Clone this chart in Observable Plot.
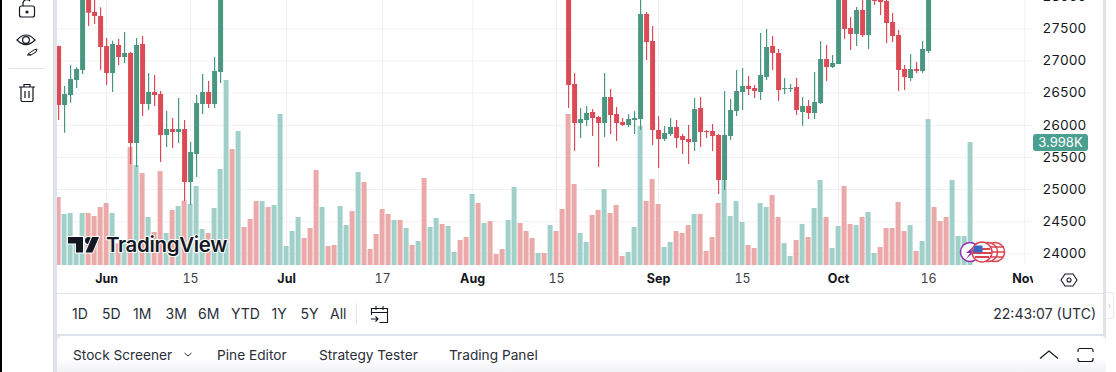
<!DOCTYPE html>
<html><head><meta charset="utf-8">
<script src="https://cdn.jsdelivr.net/npm/d3@7"></script>
<script src="https://cdn.jsdelivr.net/npm/@observablehq/plot@0.6"></script>
<style>
html,body{margin:0;padding:0;width:1116px;height:372px;overflow:hidden;background:#fff;font-family:Inter,"Liberation Sans",sans-serif;color:#131722}
#root{position:relative;width:1116px;height:372px;overflow:hidden}
#chart{position:absolute;left:0;top:0}
#chart svg{display:block;background:transparent}
.a{position:absolute;white-space:nowrap}
.band{position:absolute;background:#e0e3eb}
.r{font-size:14px;top:306px;line-height:16px;color:#2a2e39}
.t{font-size:13.7px;top:347px;line-height:16px;color:#2a2e39}
</style></head><body><div id="root">
<div class="band" style="left:53px;top:0;width:4px;height:372px"></div>
<div class="band" style="left:1103px;top:0;width:3px;height:341px"></div>
<div id="chart"></div>
<div class="a" style="left:1033px;top:265px;width:70px;height:28px;background:#fff"></div>
<div class="a" style="left:57px;top:293px;width:1046px;height:1px;background:#e0e3eb"></div>
<div class="band" style="left:53px;top:334px;width:1053px;height:7px;border-radius:0"></div>
<div class="a" style="left:57px;top:294px;width:1046px;height:40px;background:#fff;border-radius:0 0 5px 5px"></div>
<div class="a" style="left:57px;top:336px;width:1049px;height:36px;background:linear-gradient(#fff 60%,#f1f2f5);border-radius:5px 5px 0 0"></div>
<div class="a" style="left:0;top:0;width:1.5px;height:372px;background:#000"></div>
<svg class="a" style="left:0;top:0" width="56" height="110" fill="none" stroke="#131722" stroke-width="1.2">
<rect x="19.5" y="6" width="15" height="11" rx="2"/><path d="M23 6V3a4 4 0 0 1 7-2"/><circle cx="27" cy="12" r="1" fill="#131722"/>
<path d="M17 40q9-10 18 0q-9 9-18 0z"/><circle cx="26" cy="40" r="3.4"/><path d="M28 54l6-4 3-1-1 3-5 3zM27 55h4" stroke-width="1"/>
<path d="M9 68.5h36" stroke="#e0e3eb"/>
<path d="M19 87h16M24 87v-2.500h6V87M21 87v13a1.500 1.500 0 0 0 1.500 1.500h9a1.500 1.500 0 0 0 1.500-1.500V87M25 91v7M29 91v7"/>
</svg>
<div class="a" id="badge" style="left:1033px;top:134px;width:55px;height:17px;line-height:17px;background:#4a9f91;color:#fff;border-radius:3px;font-size:13px;text-align:center"></div>
<svg class="a" style="left:60px;top:228px" width="175" height="34">
<g fill="#131722" stroke="#fff" stroke-width="2" paint-order="stroke">
<path d="M8 9h15v15.500h-7V15.500H8z"/><circle cx="28.500" cy="12.500" r="3.500"/><path d="M32 9h7l-6.500 15.500h-7z"/>
<text x="46" y="24" font-size="20.500" font-weight="600" font-family="Inter,'Liberation Sans',sans-serif" letter-spacing="-.35">TradingView</text>
</g></svg>
<svg class="a" style="left:955px;top:238px" width="55" height="30">
<circle cx="15" cy="14" r="9.500" fill="#fff" stroke="#8e2fb5" stroke-width="1.500"/><path d="M19 8l-8 7h4l-4 6 9-8h-4z" fill="#8e2fb5"/>
<g fill="#fff" stroke="#d9444f" stroke-width="1.500">
<circle cx="40" cy="14" r="9.500"/><path d="M40 9h9M40 14h9.500M40 19h8" stroke-width="1.500"/>
<circle cx="33" cy="14" r="9.500"/><path d="M33 9h9M33 14h9.500M33 19h8" stroke-width="1.500"/>
<circle cx="27" cy="14" r="10"/></g>
<path d="M20 11h15M18 15h18M20 19h14" stroke="#d9444f" stroke-width="2"/><path d="M19.500 7.500h8v7h-10z" fill="#3a66c4"/>
</svg>
<svg class="a" style="left:1060px;top:271px" width="18" height="18" fill="none" stroke="#131722" stroke-width="1.100"><path d="M5 3h8l4 6-4 6H5L1 9z"/><circle cx="9" cy="9" r="2"/></svg>
<div class="a r" style="left:72px">1D</div><div class="a r" style="left:102px">5D</div><div class="a r" style="left:133px">1M</div>
<div class="a r" style="left:165.500px">3M</div><div class="a r" style="left:198px">6M</div><div class="a r" style="left:231px">YTD</div>
<div class="a r" style="left:271.500px">1Y</div><div class="a r" style="left:300.500px">5Y</div><div class="a r" style="left:330px">All</div>
<div class="a" style="left:356px;top:303px;width:1px;height:22px;background:#e0e3eb"></div>
<svg class="a" style="left:370px;top:305px" width="20" height="20" fill="none" stroke="#131722" stroke-width="1.100"><path d="M1.500 10V3.500h16v14h-8M1.500 7.500h16M6 1v4M13 1v4M1 14h7M5.500 11.500L8 14l-2.500 2.500"/></svg>
<div class="a" style="right:20px;top:305px;font-size:14px;line-height:17px;color:#2a2e39">22:43:07 (UTC)</div>
<div class="a t" style="left:73px">Stock Screener</div>
<svg class="a" style="left:183px;top:351px" width="10" height="8" fill="none" stroke="#2a2e39"><path d="M1.500 2l3.500 3 3.500-3"/></svg>
<div class="a t" style="left:217px">Pine Editor</div><div class="a t" style="left:319px">Strategy Tester</div><div class="a t" style="left:449px">Trading Panel</div>
<svg class="a" style="left:1038px;top:347px" width="60" height="18" fill="none" stroke="#131722" stroke-width="1.200"><path d="M2 11.500L11 4l9 7.500M40 5V3.500a2 2 0 0 1 2-2h11a2 2 0 0 1 2 2V5M40 11v1.500a2 2 0 0 0 2 2h11a2 2 0 0 0 2-2V11"/></svg>
<div class="a" style="left:1106px;top:292px;width:7px;height:25px;border:1px solid #e6e8ee;border-left:0;border-radius:0 4px 4px 0;color:#c4c7cf;font-size:9px;line-height:25px;text-align:center">›</div>
</div>
<script>
// Daily candles, first run starts 24 May 2023; later days are above the visible window.
const firstRunStart = "2023-05-24";
const firstOpen  = [27225,26308,26463,26697,26852,28100,27754,27692,27225,26805,27241,27054,27117,25717,27257,26323,26510,26479,25841,25934,25888,25934,25110,25546,26323,26510,26323,26821];
const firstHigh  = [27230,26603,26930,26894,28250,28200,27960,27827,27350,27308,27334,27443,27132,27350,27381,26805,26774,26526,26214,26106,26417,26074,25732,26463,26790,26681,27054,28300];
const firstLow   = [26074,25877,26344,26572,26790,27537,27568,26852,26619,26510,26930,26961,25390,25343,26137,26230,26292,25421,25654,25639,25717,24814,24752,25188,26168,26261,26261,26650];
const firstClose = [26308,26479,26712,26868,28150,27744,27692,27210,26805,27257,27054,27117,25717,27241,26323,26510,26463,25841,25934,25888,25934,25110,25577,26339,26510,26323,26837,28250];
const secondRunStart = "2023-08-17";
const secondOpen  = [28300,26634,26028,26074,26199,26121,26028,26432,26168,26043,25997,26074,26090,27723,27303,25919,25779,25857,25965,25826,25779,25732,26261,25903,25903,25841,25141,25826,26214,26510,26603,26572,26510,26743,27225,27117,26557,26557,26588,26199,26292,26183,26339,27023,26899,26945,28200,27505,27412,27785,27397,28050,27941,27925,27599,27397,26868,26728,26868,26837,27148];
const secondHigh  = [28400,26805,26261,26292,26245,26137,26805,26557,26277,26106,26168,26214,28150,27754,27537,26137,25981,26106,26074,25857,25997,26417,26432,25919,26012,25857,26526,26401,26852,26883,26759,26619,27428,27490,27381,27179,26728,26634,26728,26432,26385,26821,27303,27241,27085,28300,28350,27677,27832,28000,28100,28100,28000,27980,27739,27474,26930,27101,26977,27303,28300];
const secondLow   = [26261,25592,25794,25981,25826,25343,25810,25857,25748,25981,25965,25857,25919,27008,25686,25328,25748,25826,25639,25546,25390,25592,25654,25794,25592,24923,24985,25763,26137,26230,26463,26417,26385,26697,26852,26370,26479,26510,26152,25981,26090,26090,26323,26681,26883,26945,27334,27163,27225,27365,27179,27863,27708,27272,27288,26526,26541,26681,26805,26805,27117];
const secondClose = [26619,26028,26090,26183,26106,26028,26432,26152,26028,25997,26090,26106,27723,27288,25919,25779,25872,25965,25794,25763,25732,26245,25888,25888,25826,25141,25841,26230,26526,26603,26557,26526,26774,27210,27117,26541,26572,26572,26230,26292,26183,26354,27023,26899,26961,28200,27490,27412,27785,27397,28000,27925,27910,27583,27381,26852,26743,26868,26837,27179,28200];

// Daily volume, 24 May 2023 to 23 Oct 2023 (u = up day, d = down day).
const volumeStart = "2023-05-24";
const volume = [2209,1657,1689,866,1689,1689,1592,1884,2014,1689,704,704,3834,3249,2989,1560,1072,3054,1040,1787,1917,2090,1982,2567,1170,1040,1852,3119,6011,3769,4354,1235,1495,2079,2079,1884,1949,4906,617,1105,1560,877,1202,3087,1884,617,650,1917,1300,1754,3022,2697,520,1007,1819,1657,1462,1462,1202,650,780,2827,1235,1527,1332,1267,422,812,910,2307,2014,1365,1430,357,520,1462,2534,1365,1105,877,390,390,1300,1105,1819,4906,2632,1040,747,1625,1787,2469,1689,1949,292,422,1235,4516,2079,2794,1982,585,747,1105,1040,1300,1657,1657,455,910,2014,2762,1592,2079,1397,650,552,2014,1884,2274,1560,715,292,812,1332,910,1852,2762,1560,552,1267,2567,1332,1300,1560,1722,390,585,1202,1202,2047,1105,1300,455,780,4744,1884,1430,1560,2762,942,942,3998];
const volumeDirection = "d uuuu dddd u d u d u d u dd u d u d uuu d uuu d u ddd u d uuuuu ddd u dd uu d u ddddd u d u d u d uu d uu dd u d u ddd uu ddd u d u dddd uu dd u ddd uuu ddd uu ddd u dddd uuuu dd uu dd uu d u d uu d uu dd u d uu ddddd u d uu ddd uuuu".replace(/ /g,"");

const priceTicks = [24000,24500,25000,25500,26000,26500,27000,27500,28000];
const monthTicks = ["2023-06-01","2023-07-01","2023-08-01","2023-09-01","2023-10-01","2023-11-01"];
const dayTicks = ["2023-06-15","2023-07-17","2023-08-15","2023-09-15","2023-10-16"];
const timeDomain = ["2023-05-23T19:36:00Z","2023-11-02T07:41:00Z"];
const priceDomain = [23819,27941];
// Volume pane shares the price axis: this many price units per unit of volume, from the pane floor.
const volumeFloor = 23819, volumeToPrice = 0.4786;

const HALF_DAY = 12*36e5;
const day = s => new Date(s+"T00:00:00Z");
const offset = (s,i) => new Date(+day(s)+i*864e5);
const candles = (start,o,h,l,c) => o.map((v,i)=>({date:offset(start,i),open:v,high:h[i],low:l[i],close:c[i]}));
const candleData = [...candles(firstRunStart,firstOpen,firstHigh,firstLow,firstClose),...candles(secondRunStart,secondOpen,secondHigh,secondLow,secondClose)];
const volData = volume.map((v,i)=>({date:offset(volumeStart,i),v,up:volumeDirection[i]==="u"}));
const up="#4a9681",down="#db4a55",gridC="#eff1f5";
const candleColor = d=>d.close>=d.open?up:down;
const font="Inter,'Liberation Sans',sans-serif";
const plot = Plot.plot({
  width:1116,height:293,marginLeft:57,marginRight:84,marginTop:0,marginBottom:28,
  style:{fontFamily:font,background:"transparent",color:"#131722"},
  x:{type:"utc",domain:timeDomain.map(s=>new Date(s)),label:null},
  y:{domain:priceDomain,label:null},
  marks:[
    Plot.gridX([...monthTicks,...dayTicks].map(day),{stroke:gridC,strokeOpacity:1}),
    Plot.gridY(priceTicks.slice(0,8),{stroke:gridC,strokeOpacity:1}),
    Plot.rectY(volData,{x1:d=>new Date(+d.date-HALF_DAY),x2:d=>new Date(+d.date+HALF_DAY),y1:volumeFloor,y2:d=>volumeFloor+d.v*volumeToPrice,fill:d=>d.up?"#a0d0c9":"#eba9a9",insetLeft:.5,insetRight:.5,clip:true}),
    Plot.ruleX(candleData,{x:"date",y1:"low",y2:"high",stroke:candleColor,strokeWidth:1.2,clip:true}),
    Plot.ruleX(candleData,{x:"date",y1:"open",y2:"close",stroke:candleColor,strokeWidth:5,clip:true}),
    Plot.axisY({anchor:"right",ticks:priceTicks,tickSize:0,tickPadding:10,label:null,tickFormat:d=>String(d),fontSize:13.5,fill:"#131722"}),
    Plot.axisX({ticks:monthTicks.map(day),tickFormat:d3.utcFormat("%b"),tickSize:0,tickPadding:9,label:null,fontSize:12.5,fontWeight:700,fill:"#131722"}),
    Plot.axisX({ticks:dayTicks.map(day),tickFormat:d3.utcFormat("%-d"),tickSize:0,tickPadding:9,label:null,fontSize:12.5,fill:"#3d4046"})
  ]
});
document.getElementById("chart").appendChild(plot);
document.getElementById("badge").textContent=(volume[volume.length-1]/1000).toFixed(3)+"K";
</script></body></html>
